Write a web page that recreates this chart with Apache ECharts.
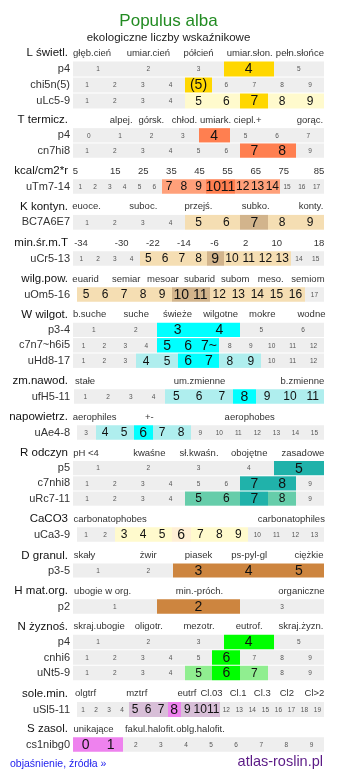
<!DOCTYPE html>
<html><head><meta charset="utf-8">
<script src="https://cdn.jsdelivr.net/npm/echarts@6/dist/echarts.min.js"></script>
<style>html,body{margin:0;padding:0;background:#fff}#c{width:337px;height:781px}</style>
</head><body><div id="c"></div>
<script>
// ---------- DATA ----------
const groupNames = ['L świetl.','T termicz.','kcal/cm2*r','K kontyn.','min.śr.m.T','wilg.pow.','W wilgot.','zm.nawod.','napowietrz.','R odczyn','CaCO3','D granul.','H mat.org.','N żyznoś.','sole.min.','S zasol.'];

const headerLabels = [
  ['głęb.cień','umiar.cień','półcień','umiar.słon.','pełn.słońce'],
  ['alpej.','górsk.','chłod.','umiark.','ciepl.+','gorąc.'],
  ['5','15','25','35','45','55','65','75','85'],
  ['euoce.','suboc.','przejś.','subko.','konty.'],
  ['-34','-30','-22','-14','-6','2','10','18'],
  ['euarid','semiar','mesoar','subarid','subom','meso.','semiom'],
  ['b.suche','suche','świeże','wilgotne','mokre','wodne'],
  ['stałe','um.zmienne','b.zmienne'],
  ['aerophiles','+-','aerophobes'],
  ['pH <4','kwaśne','sł.kwaśn.','obojętne','zasadowe'],
  ['carbonatophobes','carbonatophiles'],
  ['skały','żwir','piasek','ps-pyl-gl','ciężkie'],
  ['ubogie w org.','min.-próch.','organiczne'],
  ['skraj.ubogie','oligotr.','mezotr.','eutrof.','skraj.żyzn.'],
  ['olgtrf','mztrf','eutrf','Cl.03','Cl.1','Cl.3','Cl2','Cl>2'],
  ['unikające','fakul.halofit.','oblg.halofit.']
];
// tick positions of the header labels along the row (0..100)
const headerTicks = [
  [7.6,30,50,70.4,90.4],
  [19.2,31.2,44.4,56.8,69.6,94.4],
  [1,16.8,28,39.2,50.4,61.6,72.8,84,98],
  [5.4,28,50,72.8,94.8],
  [3.2,19.4,31.8,44.2,56.4,68.8,81.2,98],
  [5,21.2,35.8,50.4,64.6,78.8,93.6],
  [6.6,25.2,41.6,58.8,75.4,95],
  [4.8,50.4,91.4],
  [8.6,30.4,70.4],
  [5.2,30.4,50.2,70.2,91.6],
  [14.8,87],
  [4.6,30,50,70.2,94],
  [11.8,50.4,91],
  [10.4,30.2,50.2,70.2,90.8],
  [5,25.4,45.4,55.2,65.8,75.4,85.2,96.2],
  [8.2,30.8,50.8]
];

const rowNames = [
  ['p4','chi5n(5)','uLc5-9'],
  ['p4','cn7hi8'],
  ['uTm7-14'],
  ['BC7A6E7'],
  ['uCr5-13'],
  ['uOm5-16'],
  ['p3-4','c7n7~h6i5','uHd8-17'],
  ['ufH5-11'],
  ['uAe4-8'],
  ['p5','c7nhi8','uRc7-11'],
  ['uCa3-9'],
  ['p3-5'],
  ['p2'],
  ['p4','cnhi6','uNt5-9'],
  ['uSl5-11'],
  ['cs1nibg0']
];

const rowCells = [
  ['1 2 3 4 5','1 2 3 4 (5) 6 7 8 9','1 2 3 4 5 6 7 8 9'],
  ['0 1 2 3 4 5 6 7','1 2 3 4 5 6 7 8 9'],
  ['1 2 3 4 5 6 7 8 9 10 11 12 13 14 15 16 17'],
  ['1 2 3 4 5 6 7 8 9'],
  ['1 2 3 4 5 6 7 8 9 10 11 12 13 14 15'],
  ['5 6 7 8 9 10 11 12 13 14 15 16 17'],
  ['1 2 3 4 5 6','1 2 3 4 5 6 7~ 8 9 10 11 12','1 2 3 4 5 6 7 8 9 10 11 12'],
  ['1 2 3 4 5 6 7 8 9 10 11'],
  ['3 4 5 6 7 8 9 10 11 12 13 14 15'],
  ['1 2 3 4 5','1 2 3 4 5 6 7 8 9','1 2 3 4 5 6 7 8 9'],
  ['1 2 3 4 5 6 7 8 9 10 11 12 13'],
  ['1 2 3 4 5'],
  ['1 2 3'],
  ['1 2 3 4 5','1 2 3 4 5 6 7 8 9','1 2 3 4 5 6 7 8 9'],
  ['1 2 3 4 5 6 7 8 9 10 11 12 13 14 15 16 17 18 19'],
  ['0 1 2 3 4 5 6 7 8 9']
];
// cells in the indicator's range (light colour)
const rowRange = [
  ['','','5 6 8 9'],
  ['',''],
  ['7 8 9 12 13 14'],
  ['5 6 8 9'],
  ['5 6 7 8 10 11 12 13'],
  ['5 6 7 8 9 12 13 14 15 16'],
  ['','','4 5 8 9'],
  ['5 6 7 9 10 11'],
  ['4 5 7 8'],
  ['','','5 6 8'],
  ['3 4 5 7 8 9'],
  [''],
  [''],
  ['','','5 7'],
  ['5 6 7 9 10 11'],
  ['']
];
// main value cells (strong colour)
const rowMain = [
  ['4','(5)','7'],
  ['4','7 8'],
  ['10 11'],
  ['7'],
  ['9'],
  ['10 11'],
  ['3 4','5 6 7~','6 7'],
  ['8'],
  ['6'],
  ['5','7 8','7'],
  ['6'],
  ['3 4 5'],
  ['2'],
  ['4','6','6'],
  ['8'],
  ['0 1']
];

// ---------- STYLE / LAYOUT ----------
const groupColors = [
  ['#FFD700','#FFFACD'],
  ['#FF7F50','#FFA07A'],
  ['#FF7F50','#FFA07A'],
  ['#D2B48C','#F5DEB3'],
  ['#D2B48C','#F5DEB3'],
  ['#D2B48C','#F5DEB3'],
  ['#00FFFF','#AFEEEE'],
  ['#00FFFF','#AFEEEE'],
  ['#00FFFF','#AFEEEE'],
  ['#20B2AA','#66CDAA'],
  ['#FFEFD5','#FFFACD'],
  ['#CD853F','#DEB887'],
  ['#CD853F','#DEB887'],
  ['#00FF00','#90EE90'],
  ['#EE82EE','#D8BFD8'],
  ['#EE82EE','#D8BFD8']
];
const headerY = [53,120,171,206.5,243,279,314.5,381,417,453,519,555.5,591,626.5,693.5,729];
const pitch =   [16,15.3,15.5,15.8,15.5,15.5,15.4,15.5,15.5,15.2,15.5,15,15.5,15.5,16,15.5];
// pixel inset of a row's first cell (rows with 13 / 19 cells start a bit later)
const rowInset = [[0,0,0],[0,0],[0],[0],[0],[3.5],[0,0,0],[1],[3.5],[0,0,0],[3.5],[0],[0],[0,0,0],[3.5],[0]];
const FF = '"Liberation Sans", Arial, Helvetica, sans-serif';
const GREY = '#EEEEEE';

// ---------- BUILD ----------
const chart = echarts.init(document.getElementById('c'), null, {renderer:'canvas'});
const grids = [], xAxes = [], yAxes = [], series = [];
const split = s => s === '' ? [] : s.split(' ');

groupNames.forEach((gname, gi) => {
  const nRows = rowNames[gi].length;
  const p = pitch[gi];
  grids.push({left: 73, width: 251, top: headerY[gi] - p/2, height: p*(nRows+1), containLabel: false});
  xAxes.push({type:'value', gridIndex: gi, min: 0, max: 100, show: false});
  yAxes.push({
    type:'category', gridIndex: gi, inverse: true,
    data: [gname].concat(rowNames[gi]),
    axisLine:{show:false}, axisTick:{show:false}, splitLine:{show:false},
    axisLabel:{
      interval: 0, margin: 3,
      formatter: (v, i) => i === 0 ? '{g|' + v + '}' : '{r|' + v + '}',
      rich:{
        g:{fontSize: 11.5, color:'#111', fontFamily: FF, padding:[0,2,0,0]},
        r:{fontSize: 11, color:'#333', fontFamily: FF}
      }
    }
  });
  const its = [];
  headerLabels[gi].forEach((t, k) => its.push({kind:'h', x0: headerTicks[gi][k], x1: headerTicks[gi][k], y: 0, text: t, inset: 0}));
  rowNames[gi].forEach((rn, ri) => {
    const cells = split(rowCells[gi][ri]);
    const rng = split(rowRange[gi][ri]);
    const mn = split(rowMain[gi][ri]);
    const n = cells.length;
    cells.forEach((c, ci) => {
      const kind = mn.includes(c) ? 'm' : (rng.includes(c) ? 'r' : 'n');
      its.push({kind, x0: ci*100/n, x1: (ci+1)*100/n, y: ri+1, text: c, inset: rowInset[gi][ri]});
    });
  });
  const col = groupColors[gi];
  series.push({
    type:'custom', xAxisIndex: gi, yAxisIndex: gi, clip: false, silent: true,
    encode:{x:[0,1], y:2},
    data: its.map(o => [o.x0, o.x1, o.y]),
    renderItem: function(params, api){
      const it = its[params.dataIndex];
      if (it.kind === 'h') {
        const pt = api.coord([it.x0, 0]);
        return {type:'text', z2: 20, style:{text: it.text, x: pt[0], y: pt[1], align:'center', verticalAlign:'middle', fontSize: 9.5, fill:'#333', fontFamily: FF}};
      }
      const s = api.coord([0, it.y]), e = api.coord([100, it.y]);
      const L = s[0] + it.inset, W = e[0] - L;
      const ax = L + W * it.x0 / 100, bx = L + W * it.x1 / 100;
      const cy = s[1];
      const bh = api.size([0, 1])[1];
      const h = bh - 1;
      const x0 = Math.round(ax), x1 = Math.round(bx);
      const fill = it.kind === 'm' ? col[0] : (it.kind === 'r' ? col[1] : GREY);
      const fs = it.kind === 'n' ? 6.5 : (it.kind === 'r' ? 12 : 14);
      return {type:'group', children:[
        {type:'rect', z2: 0, shape:{x: x0, y: cy - h/2, width: x1 - x0, height: h}, style:{fill}},
        {type:'text', z2: 10, style:{text: it.text, x: (ax+bx)/2, y: cy + 0.5, align:'center', verticalAlign:'middle', fontSize: fs, fill: it.kind === 'n' ? '#555' : '#111', fontFamily: FF}}
      ]};
    }
  });
});

chart.setOption({
  animation: false,
  backgroundColor: '#fff',
  title: {
    text: 'Populus alba', subtext: 'ekologiczne liczby wskaźnikowe',
    left: 'center', top: 8, itemGap: 2,
    textStyle: {fontSize: 17, fontWeight: 'normal', color: '#228B22', fontFamily: FF},
    subtextStyle: {fontSize: 11.5, color: '#222', fontFamily: FF}
  },
  grid: grids, xAxis: xAxes, yAxis: yAxes, series: series,
  graphic: [
    {type:'text', left: 10, top: 759, style:{text:'objaśnienie, źródła »', fontSize: 10.5, fill:'#2222EE', fontFamily: FF}},
    {type:'text', right: 14, top: 754, style:{text:'atlas-roslin.pl', fontSize: 14.5, fill:'#5B1A86', fontFamily: FF}}
  ]
});
</script></body></html>
